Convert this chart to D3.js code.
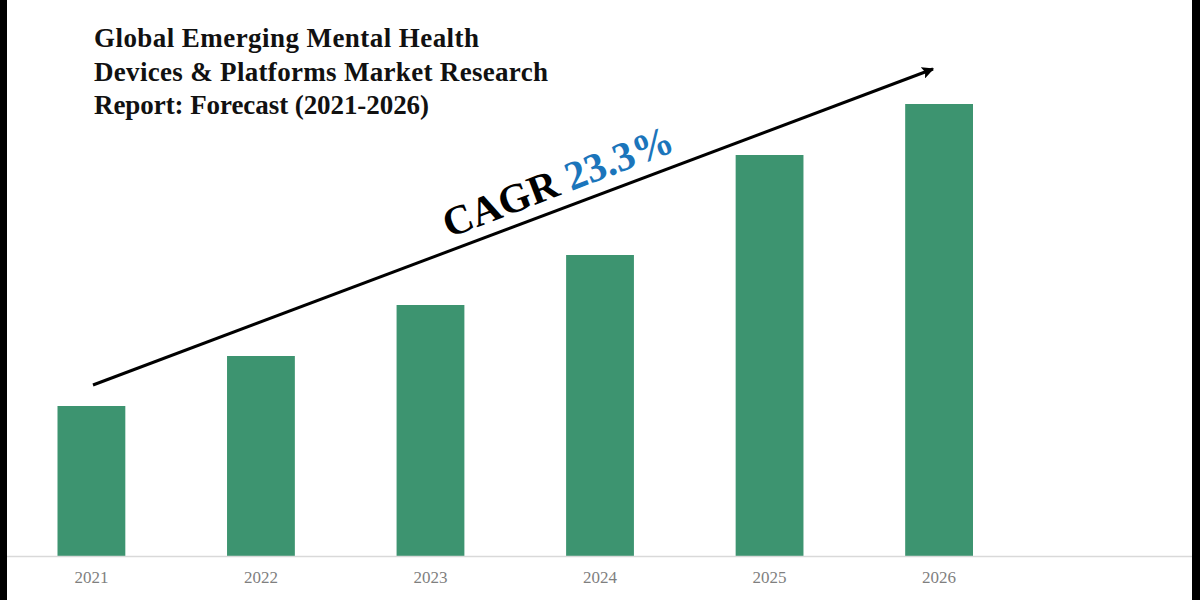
<!DOCTYPE html>
<html>
<head>
<meta charset="utf-8">
<script src="https://cdn.jsdelivr.net/npm/d3@7"></script>
<style>
html, body { margin: 0; padding: 0; background: #fff; }
svg { display: block; }
text { font-family: "Liberation Serif", serif; }
</style>
</head>
<body>
<svg id="chart" width="1200" height="600"></svg>
<script>
// heights, no y axis in the original so units are arbitrary
var years = ["2021", "2022", "2023", "2024", "2025", "2026"];
var marketValues = [150, 200, 251, 301, 401, 452];
var titleLines = ["Global Emerging Mental Health", "Devices & Platforms Market Research", "Report: Forecast (2021-2026)"];
var cagrLabel = "CAGR";
var cagrValue = "23.3%";

var svg = d3.select("#chart");

var x = d3.scaleBand()
    .domain(years)
    .range([57.5, 973])
    .paddingInner(0.6)
    .paddingOuter(0);

var y = d3.scaleLinear()
    .domain([0, 452])
    .range([556, 104]);

// black strips down the sides of the image
svg.append("rect").attr("x", 0).attr("y", 0).attr("width", 7).attr("height", 600).attr("fill", "#000");
svg.append("rect").attr("x", 1192).attr("y", 0).attr("width", 8).attr("height", 600).attr("fill", "#000");

svg.selectAll(".bar")
    .data(marketValues)
    .enter()
    .append("rect")
    .attr("class", "bar")
    .attr("x", function(d, i) { return x(years[i]); })
    .attr("y", function(d) { return y(d); })
    .attr("width", x.bandwidth())
    .attr("height", function(d) { return y(0) - y(d); })
    .attr("fill", "#3d9470");

var xAxis = svg.append("g")
    .attr("transform", "translate(0,556)")
    .call(d3.axisBottom(x).tickSize(0).tickPadding(15));
xAxis.select(".domain").remove();
xAxis.append("line")
    .attr("x1", 7).attr("x2", 1192)
    .attr("y1", 0.5).attr("y2", 0.5)
    .attr("stroke", "#d9d9d9")
    .attr("stroke-width", 1.5);
xAxis.selectAll("text")
    .style("font-family", "'Liberation Serif', serif")
    .style("font-size", "17px")
    .attr("fill", "#7f7f7f");

// line widths measured on the reference, its Garamond runs wider than Liberation
var titleWidths = [385, 454, 335];
svg.append("g")
    .selectAll("text")
    .data(titleLines)
    .enter()
    .append("text")
    .attr("x", 94)
    .attr("y", function(d, i) { return 47 + i * 33.5; })
    .attr("font-size", 27)
    .attr("font-weight", "bold")
    .attr("fill", "#111")
    .attr("textLength", function(d, i) { return titleWidths[i]; })
    .attr("lengthAdjust", "spacing")
    .text(function(d) { return d; });

// growth arrow
svg.append("defs").append("marker")
    .attr("id", "arrowhead")
    .attr("viewBox", "0 0 10 10")
    .attr("refX", 9).attr("refY", 5)
    .attr("markerWidth", 4).attr("markerHeight", 4)
    .attr("orient", "auto")
    .append("path")
    .attr("d", "M0,0L10,5L0,10L2,5Z")
    .attr("fill", "#000");

svg.append("line")
    .attr("x1", 93).attr("y1", 385)
    .attr("x2", 933).attr("y2", 69)
    .attr("stroke", "#000")
    .attr("stroke-width", 3)
    .attr("marker-end", "url(#arrowhead)");

var cagr = svg.append("text")
    .attr("transform", "translate(449,238) rotate(-21)")
    .attr("font-size", 41)
    .attr("font-weight", "bold");
cagr.append("tspan").attr("fill", "#000").text(cagrLabel + " ");
cagr.append("tspan").attr("fill", "#1b75bb").text(cagrValue);
</script>
</body>
</html>
